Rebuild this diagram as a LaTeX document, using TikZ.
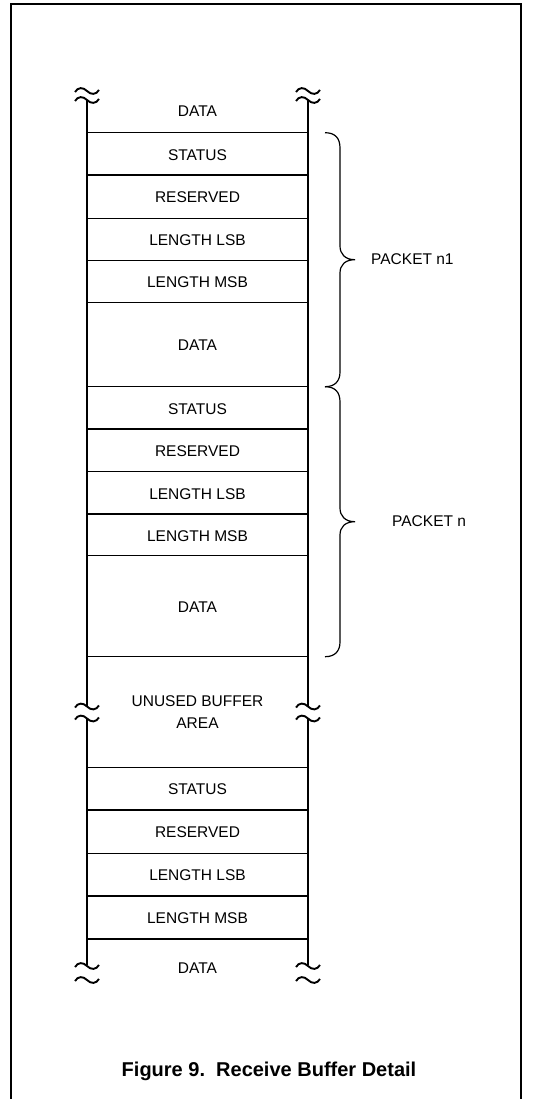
\documentclass[tikz,border=0pt]{standalone}
\usepackage{fontspec}
\setmainfont{Liberation Sans}
\begin{document}
\begin{tikzpicture}[x=1pt,y=-1pt,
  lbl/.style={font=\fontsize{15.5}{22}\selectfont, inner sep=0pt, align=center},
  captext/.style={font=\fontsize{20}{24}\selectfont\bfseries, inner sep=0pt},
  rowline/.style={line width=1.2pt},
  heavyline/.style={line width=1.8pt},
  wall/.style={line width=2.4pt},
  bracepath/.style={line width=1.2pt},
  brk/.pic={\draw[line width=1.9pt] (-12,1) .. controls (-9,-4) and (-4,-4) .. (0,0) .. controls (4,4) and (9,4) .. (12,-1);}
]
\useasboundingbox (0,0) rectangle (534,1099);
% frame
\draw[line width=1.3pt] (11,1099) -- (11,4) -- (521,4) -- (521,1099);

% coordinates of the walls
\coordinate (L0) at (87,100);   \coordinate (R0) at (308,100);
\coordinate (L1) at (87,706.5); \coordinate (R1) at (308,706.5);
\coordinate (L2) at (87,718.5); \coordinate (R2) at (308,718.5);
\coordinate (L3) at (87,965);   \coordinate (R3) at (308,965);

% break marks
\pic at (87,91) {brk};  \pic at (87,100) {brk};
\pic at (308,91) {brk}; \pic at (308,100) {brk};
\pic at (87,706.5) {brk};  \pic at (87,718.5) {brk};
\pic at (308,706.5) {brk}; \pic at (308,718.5) {brk};
\pic at (87,966) {brk};  \pic at (87,980) {brk};
\pic at (308,966) {brk}; \pic at (308,980) {brk};

% walls
\draw[wall] (L0) -- (L1);  \draw[wall] (R0) -- (R1);
\draw[wall] (L2) -- (L3);  \draw[wall] (R2) -- (R3);

% row lines
\foreach \y in {132.7,175,218.3,260.7,302.3,429,471.7,514,555.7,810,853.3,896}
  \draw[rowline] (87,\y) -- (308,\y);
\foreach \y in {386.7,656.7,767.3}
  \draw[line width=1.5pt] (87,\y) -- (308,\y);
\draw[heavyline] (87,939.3) -- (308,939.3);

% texts
\node[lbl] (d0) at (197.5,111) {DATA};
\node[lbl] (s1) at (197.5,155) {STATUS};
\node[lbl] (r1) at (197.5,197.5) {RESERVED};
\node[lbl] (l1) at (197.5,240.5) {LENGTH LSB};
\node[lbl] (m1) at (197.5,282.5) {LENGTH MSB};
\node[lbl] (d1) at (197.5,345) {DATA};
\node[lbl] (s2) at (197.5,409) {STATUS};
\node[lbl] (r2) at (197.5,451) {RESERVED};
\node[lbl] (l2) at (197.5,494) {LENGTH LSB};
\node[lbl] (m2) at (197.5,536) {LENGTH MSB};
\node[lbl] (d2) at (197.5,607) {DATA};
\node[lbl] (u)  at (197.5,712) {UNUSED BUFFER\\AREA};
\node[lbl] (s3) at (197.5,789.5) {STATUS};
\node[lbl] (r3) at (197.5,832.5) {RESERVED};
\node[lbl] (l3) at (197.5,875.5) {LENGTH LSB};
\node[lbl] (m3) at (197.5,918.5) {LENGTH MSB};
\node[lbl] (d3) at (197.5,968) {DATA};

% braces
\draw[bracepath] (325,132.7) .. controls (335,132.7) and (340,138) .. (340,148)
  -- (340,246) .. controls (340,254) and (345,259.7) .. (355,259.7)
  .. controls (345,259.7) and (340,265) .. (340,273)
  -- (340,372) .. controls (340,381) and (335,386.7) .. (325,386.7);
\draw[bracepath] (325,386.7) .. controls (335,386.7) and (340,392) .. (340,402)
  -- (340,508) .. controls (340,516) and (345,521.7) .. (355,521.7)
  .. controls (345,521.7) and (340,527) .. (340,535)
  -- (340,642) .. controls (340,651) and (335,656.7) .. (325,656.7);

\node[lbl, anchor=west] (p1) at (371,259) {PACKET n1};
\node[lbl, anchor=west] (p2) at (392,521) {PACKET n};

\node[captext] (caption) at (269,1071) {Figure 9.\ \ Receive Buffer Detail};
\end{tikzpicture}
\end{document}
